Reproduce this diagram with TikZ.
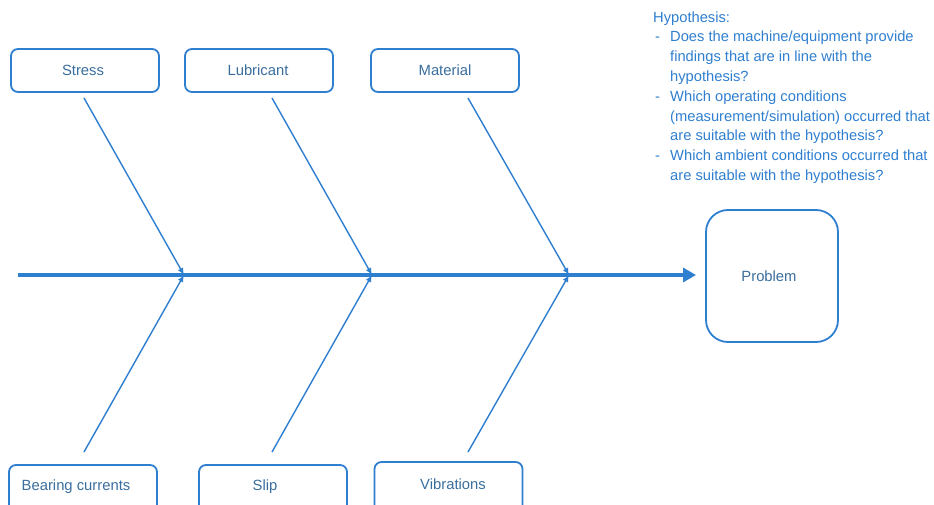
\documentclass[tikz,border=0pt]{standalone}
\usepackage{fontspec}
\setmainfont{Liberation Sans}
\usetikzlibrary{arrows.meta}
\definecolor{fbblue}{HTML}{2F7FD0}
\definecolor{fbtext}{HTML}{3A6E9E}
\begin{document}
\begin{tikzpicture}[x=1pt,y=-1pt,
  labelfont/.style={font=\fontsize{14.8}{17}\selectfont, text=fbtext},
  causebox/.style={draw=fbblue, line width=1.8pt, rounded corners=7pt, fill=white,
    minimum width=148pt, minimum height=43pt, inner sep=0pt, labelfont},
  bone/.style={draw=fbblue, line width=1.4pt, -{Latex[length=7pt,width=6pt]}},
  spine/.style={draw=fbblue, line width=3.5pt, -{Triangle[length=13pt,width=14pt]}}]
\useasboundingbox (0,0) rectangle (934,505);
\clip (0,0) rectangle (934,505);
\fill[white] (0,0) rectangle (934,505);
% boxes
\node[causebox] (stress) at (85,70.5) {};
\node[causebox] (lub) at (259,70.5) {};
\node[causebox] (mat) at (445,70.5) {};
\node[labelfont] (stresst) at (83,70) {Stress};
\node[labelfont] (lubt) at (258,70) {Lubricant};
\node[labelfont] (matt) at (445,70) {Material};
\node[causebox, minimum height=50pt] (bear) at (83,490) {};
\node[causebox, minimum height=50pt] (slip) at (273,490) {};
\node[causebox, minimum height=50pt] (vib) at (448.5,487) {};
\node[labelfont] (beart) at (76,487) {Bearing currents};
\node[labelfont] (slipt) at (265,487) {Slip};
\node[labelfont] (vibt) at (453,484) {Vibrations};
\node[draw=fbblue, line width=1.8pt, rounded corners=22pt, minimum width=132pt,
  minimum height=132pt, inner sep=0pt] (prob) at (772,276) {};
\node[labelfont] (probt) at (769,276) {Problem};
% spine
\coordinate (tail) at (18,275);
\coordinate (head) at (696,275);
\coordinate (j1) at (184,275);
\coordinate (j2) at (372,275);
\coordinate (j3) at (569,275);
\draw[spine] (tail) -- (head);
% bones
\coordinate (s1) at (84,98);
\coordinate (s2) at (272,98);
\coordinate (s3) at (468,98);
\coordinate (b1) at (84,452);
\coordinate (b2) at (272,452);
\coordinate (b3) at (468,452);
\draw[bone] (s1) -- (j1);
\draw[bone] (s2) -- (j2);
\draw[bone] (s3) -- (j3);
\draw[bone] (b1) -- (j1);
\draw[bone] (b2) -- (j2);
\draw[bone] (b3) -- (j3);
% hypothesis
\node[anchor=north west, inner sep=0pt, text=fbblue, font=\fontsize{14.7}{19.8}\selectfont]
  (hyp) at (653,8) {\begin{tabular}{@{}p{17pt}@{}l@{}}
\multicolumn{2}{@{}l@{}}{Hypothesis:}\\
\hspace{2pt}- & Does the machine/equipment provide\\
 & findings that are in line with the\\
 & hypothesis?\\
\hspace{2pt}- & Which operating conditions\\
 & (measurement/simulation) occurred that\\
 & are suitable with the hypothesis?\\
\hspace{2pt}- & Which ambient conditions occurred that\\
 & are suitable with the hypothesis?
\end{tabular}};
\end{tikzpicture}
\end{document}
